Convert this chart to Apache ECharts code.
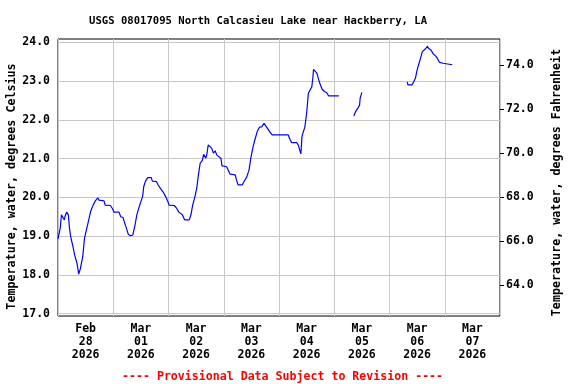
<!DOCTYPE html>
<html><head><meta charset="utf-8">
<script src="https://cdn.jsdelivr.net/npm/echarts@6/dist/echarts.min.js"></script>
<style>html,body{margin:0;padding:0;background:#fff}#c{width:576px;height:384px}</style>
</head><body><div id="c"></div>
<script>
// Observation times (2026, month-day hour:minute) and water temperature in deg C
const times = [
'02-28 00:00','02-28 01:00','02-28 01:30','02-28 02:00','02-28 02:45','02-28 03:00','02-28 03:45','02-28 04:30',
'02-28 05:00','02-28 05:30','02-28 06:30','02-28 07:15','02-28 08:15','02-28 09:00','02-28 09:45','02-28 10:45',
'02-28 11:30','02-28 12:30','02-28 13:30','02-28 14:15','02-28 15:15','02-28 16:15','02-28 17:15','02-28 17:45',
'02-28 20:00','02-28 20:30','02-28 22:45','02-28 23:45','03-01 00:15','03-01 02:30','03-01 03:15','03-01 04:15',
'03-01 05:00','03-01 05:45','03-01 06:30','03-01 07:30','03-01 08:30','03-01 09:30','03-01 10:15','03-01 11:30',
'03-01 12:45','03-01 13:15','03-01 14:00','03-01 15:00','03-01 16:30','03-01 17:00','03-01 18:45','03-01 19:30',
'03-01 20:30','03-01 21:45','03-01 22:45','03-01 23:45','03-02 00:15','03-02 02:30','03-02 03:30','03-02 04:30',
'03-02 06:00','03-02 07:00','03-02 09:00','03-02 09:45','03-02 10:30','03-02 11:30','03-02 12:15','03-02 13:00',
'03-02 13:45','03-02 14:45','03-02 15:15','03-02 16:15','03-02 16:45','03-02 17:15','03-02 17:30','03-02 18:45',
'03-02 19:30','03-02 20:15','03-02 21:00','03-02 21:30','03-02 22:45','03-02 23:15','03-03 01:15','03-03 02:00',
'03-03 02:45','03-03 05:00','03-03 05:30','03-03 06:15','03-03 08:00','03-03 09:00','03-03 10:00','03-03 11:00',
'03-03 11:45','03-03 12:45','03-03 13:30','03-03 14:30','03-03 15:30','03-03 16:30','03-03 17:30','03-03 18:15',
'03-03 19:00','03-03 20:00','03-03 21:00','03-04 04:00','03-04 04:45','03-04 05:30','03-04 07:45','03-04 08:30',
'03-04 09:00','03-04 09:30','03-04 10:00','03-04 10:30','03-04 11:15','03-04 12:00','03-04 12:45','03-04 13:30',
'03-04 14:15','03-04 14:45','03-04 15:00','03-04 15:45','03-04 16:30','03-04 17:15','03-04 18:00','03-04 18:45',
'03-04 19:45','03-04 20:45','03-04 21:30','03-05 02:00','03-05 05:00','03-05 08:30','03-05 09:15','03-05 10:15',
'03-05 11:00','03-05 11:15','03-05 12:00','03-05 20:00','03-06 07:45','03-06 08:00','03-06 09:45','03-06 10:30',
'03-06 11:15','03-06 12:00','03-06 12:45','03-06 13:30','03-06 14:15','03-06 15:00','03-06 15:45','03-06 16:30',
'03-06 17:00','03-06 18:00','03-06 19:00','03-06 20:00','03-06 20:45','03-06 21:45','03-06 23:15','03-07 00:00',
'03-07 03:15'
];
const tempC = [
18.93,19.22,19.55,19.60,19.42,19.50,19.62,19.55,
19.20,18.99,18.73,18.51,18.30,18.02,18.17,18.47,
18.94,19.20,19.46,19.65,19.80,19.91,19.99,19.93,
19.91,19.80,19.79,19.70,19.62,19.62,19.50,19.48,
19.33,19.20,19.05,19.01,19.03,19.30,19.55,19.80,
20.02,20.28,20.42,20.51,20.51,20.42,20.41,20.32,
20.23,20.13,20.02,19.89,19.80,19.79,19.72,19.62,
19.55,19.42,19.42,19.55,19.80,20.02,20.23,20.58,
20.88,20.96,21.11,21.01,21.14,21.35,21.40,21.27,
21.14,21.20,21.09,21.05,21.01,20.81,20.79,20.69,
20.60,20.58,20.45,20.32,20.32,20.43,20.53,20.71,
21.01,21.31,21.48,21.69,21.81,21.82,21.91,21.87,
21.78,21.69,21.61,21.61,21.50,21.41,21.41,21.33,
21.22,21.12,21.58,21.61,21.82,22.17,22.68,22.77,
22.85,23.11,23.30,23.30,23.20,23.03,22.90,22.79,
22.73,22.70,22.62,22.62,null,22.10,22.21,22.30,
22.38,22.56,22.71,null,22.98,22.90,22.90,22.98,
23.07,23.29,23.44,23.59,23.76,23.80,23.84,23.90,
23.84,23.80,23.70,23.65,23.59,23.48,23.46,23.42,
23.42
];
const celsiusTicks = [17, 18, 19, 20, 21, 22, 23, 24];
const fahrenheitTicks = [64, 66, 68, 70, 72, 74];
const dayLabels = ['Feb\n28\n2026','Mar\n01\n2026','Mar\n02\n2026','Mar\n03\n2026','Mar\n04\n2026','Mar\n05\n2026','Mar\n06\n2026','Mar\n07\n2026'];
const titleText = 'USGS 08017095 North Calcasieu Lake near Hackberry, LA';
const footerText = '---- Provisional Data Subject to Revision ----';

const base = Date.UTC(2026, 1, 28, 0, 0);
function toHours(s) {
  const m = +s.slice(0, 2), d = +s.slice(3, 5), hh = +s.slice(6, 8), mm = +s.slice(9, 11);
  return (Date.UTC(2026, m - 1, d, hh, mm) - base) / 3600000;
}
const seriesData = times.map((t, i) => [toHours(t), tempC[i]]);
const labelHours = dayLabels.map((_, i) => 12 + 24 * i);

const FONT = 'DejaVu Sans Mono';
const chart = echarts.init(document.getElementById('c'), null, {renderer: 'canvas'});
chart.setOption({
  animation: false,
  backgroundColor: '#fff',
  title: [
    {text: titleText, left: 84, top: 11,
     textStyle: {fontFamily: FONT, fontSize: 10.6, fontWeight: 'bold', color: '#000'}},
    {text: footerText, left: 117, top: 366,
     textStyle: {fontFamily: FONT, fontSize: 11.6, fontWeight: 'bold', color: '#ff0000'}}
  ],
  grid: {left: 58, right: 76, top: 39, bottom: 68, show: true, borderColor: '#000', borderWidth: 1,
         backgroundColor: 'transparent', containLabel: false, outerBoundsMode: 'none'},
  xAxis: {
    type: 'value', min: 0, max: 192, interval: 24,
    axisLine: {show: false}, axisTick: {show: false},
    splitLine: {show: true, lineStyle: {color: '#c8c8c8', width: 1}},
    axisLabel: {
      customValues: labelHours, margin: 7,
      fontFamily: FONT, fontSize: 11.5, fontWeight: 'bold', color: '#000', lineHeight: 13,
      formatter: v => dayLabels[Math.round((v - 12) / 24)] || ''
    }
  },
  yAxis: [
    {
      type: 'value', min: 16.94, max: 24.085, position: 'left',
      axisLine: {show: false},
      axisTick: {show: false, customValues: celsiusTicks},
      splitLine: {show: true, lineStyle: {color: '#c8c8c8', width: 1}},
      axisLabel: {customValues: celsiusTicks, margin: 8, fontFamily: FONT, fontSize: 11.5, fontWeight: 'bold', color: '#000',
        formatter: v => v.toFixed(1)},
      name: 'Temperature, water, degrees Celsius', nameLocation: 'middle', nameGap: 40, nameMoveOverlap: false,
      nameTextStyle: {fontFamily: FONT, fontSize: 11.7, fontWeight: 'bold', color: '#000', padding: [0, 18, 0, 0]}
    },
    {
      type: 'value', min: 62.6, max: 75.18, position: 'right',
      axisLine: {show: false},
      axisTick: {show: true, inside: false, length: 4, customValues: fahrenheitTicks, lineStyle: {color: '#000', width: 1}},
      splitLine: {show: false},
      axisLabel: {customValues: fahrenheitTicks, margin: 6, fontFamily: FONT, fontSize: 11.5, fontWeight: 'bold', color: '#000',
        formatter: v => v.toFixed(1)},
      name: 'Temperature, water, degrees Fahrenheit', nameLocation: 'middle', nameGap: 51,
      nameTextStyle: {fontFamily: FONT, fontSize: 11.7, fontWeight: 'bold', color: '#000', padding: [0, 10, 0, 0]}
    }
  ],
  series: [{
    type: 'line', yAxisIndex: 0, data: seriesData,
    showSymbol: false, connectNulls: false,
    lineStyle: {color: '#0000ff', width: 1.2}, itemStyle: {color: '#0000ff'}
  }]
});
</script>
</body></html>
